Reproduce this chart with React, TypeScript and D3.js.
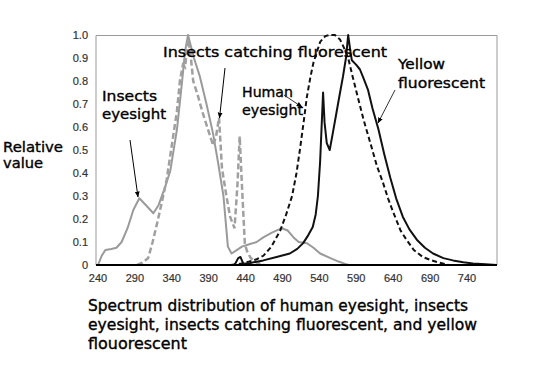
import React from "react";
import * as d3 from "d3";

const xTicks = [240, 290, 340, 390, 440, 490, 540, 590, 640, 690, 740];
const yTicks = [0, 0.1, 0.2, 0.3, 0.4, 0.5, 0.6, 0.7, 0.8, 0.9, 1.0];
const yTickLabels = ["0", "0.1", "0.2", "0.3", "0.4", "0.5", "0.6", "0.7", "0.8", "0.9", "1.0"];

// Insects eyesight (gray solid)
const insectsEyeNm = [240, 245, 250, 258, 265, 272, 280, 288, 296, 305, 315, 322, 330, 338, 347, 354, 358, 362, 366, 370, 378, 387, 396, 403, 410, 416, 421, 428, 435, 445, 455, 464, 475, 489, 497, 505, 512, 523, 532, 541, 555, 566, 575, 580];
const insectsEyeVal = [0, 0.04, 0.065, 0.07, 0.075, 0.1, 0.16, 0.24, 0.29, 0.26, 0.225, 0.26, 0.33, 0.41, 0.59, 0.8, 0.93, 1.0, 0.95, 0.9, 0.82, 0.7, 0.57, 0.44, 0.3, 0.08, 0.05, 0.065, 0.08, 0.09, 0.1, 0.12, 0.14, 0.16, 0.15, 0.12, 0.1, 0.095, 0.075, 0.05, 0.03, 0.015, 0.005, 0];

// Insects catching fluorescent (gray dashed)
const catchNm = [293, 300, 308, 314, 320, 327, 333, 340, 347, 351, 355, 358, 362, 365, 369, 375, 382, 390, 396, 400, 404, 408, 414, 419, 425, 429, 432, 435, 439, 442, 447, 455, 465];
const catchVal = [0, 0.01, 0.03, 0.1, 0.18, 0.28, 0.37, 0.52, 0.67, 0.8, 0.87, 0.86, 0.98, 0.93, 0.8, 0.74, 0.66, 0.58, 0.52, 0.56, 0.64, 0.42, 0.3, 0.21, 0.16, 0.35, 0.56, 0.35, 0.09, 0.06, 0.03, 0.01, 0];

// Human eyesight (black dashed)
const humanNm = [420, 432, 445, 455, 464, 475, 487, 495, 503, 509, 514, 519, 523, 528, 532, 541, 548, 554, 561, 568, 574, 579, 585, 592, 600, 610, 618, 626, 633, 640, 650, 658, 668, 680, 692, 703, 715];
const humanVal = [0, 0.005, 0.015, 0.025, 0.04, 0.08, 0.15, 0.22, 0.3, 0.4, 0.51, 0.63, 0.73, 0.82, 0.88, 0.97, 0.995, 1.0, 1.0, 0.98, 0.94, 0.9, 0.82, 0.73, 0.63, 0.52, 0.43, 0.36, 0.29, 0.23, 0.15, 0.11, 0.065, 0.035, 0.02, 0.01, 0];

// Yellow fluorescent (black solid)
const yellowNm = [425, 430, 433, 437, 445, 464, 482, 500, 510, 518, 525, 531, 535, 538, 541, 543, 545, 547, 550, 554, 558, 563, 568, 572, 576, 579, 582, 584, 590, 595, 600, 606, 612, 620, 628, 636, 644, 653, 662, 672, 683, 694, 708, 721, 735, 748, 765, 780];
const yellowVal = [0, 0.03, 0.035, 0.005, 0.008, 0.02, 0.035, 0.05, 0.07, 0.095, 0.13, 0.165, 0.22, 0.3, 0.45, 0.6, 0.75, 0.62, 0.53, 0.5, 0.57, 0.66, 0.75, 0.82, 0.9, 1.0, 0.93, 0.89, 0.87, 0.85, 0.81, 0.76, 0.68, 0.59, 0.48, 0.38, 0.29, 0.21, 0.155, 0.11, 0.075, 0.05, 0.03, 0.02, 0.012, 0.007, 0.003, 0];

const captionLines = [
  "Spectrum distribution of human eyesight, insects",
  "eyesight, insects catching fluorescent, and yellow",
  "flouorescent",
];

const FONT = "'DejaVu Sans', sans-serif";

function Label({ x, y, w, size = 14, children }: { x: number; y: number; w: number; size?: number; children: string }) {
  return (
    <text x={x} y={y} fontFamily={FONT} fontSize={size} textLength={w} lengthAdjust="spacingAndGlyphs"
      fill="#000" stroke="#000" strokeWidth={0.35}>
      {children}
    </text>
  );
}

export default function App() {
  const x = d3.scaleLinear().domain([240, 780]).range([98, 496.5]);
  const y = d3.scaleLinear().domain([0, 1]).range([265, 35]);
  const line = d3
    .line<[number, number]>()
    .x((d) => x(d[0]))
    .y((d) => y(d[1]));
  const zip = (a: number[], b: number[]) => a.map((v, i) => [v, b[i]] as [number, number]);

  return (
    <svg
      width={533}
      height={387}
      style={{ position: "absolute", left: 0, top: 0, background: "#fff" }}
    >
      <defs>
        <marker id="ah" viewBox="0 0 10 10" refX="9" refY="5" markerWidth="6" markerHeight="6" orient="auto">
          <path d="M0,1 L10,5 L0,9 Z" fill="#000" />
        </marker>
      </defs>
      <rect x={0} y={0} width={533} height={387} fill="#fff" />
      {/* frame */}
      <path d={`M96,265 V35.5 H497 V265`} fill="none" stroke="#999" strokeWidth={1} />
      {/* curves */}
      <path d={line(zip(insectsEyeNm, insectsEyeVal)) || ""} fill="none" stroke="#9a9a9a" strokeWidth={2} strokeLinejoin="round" />
      <path d={line(zip(catchNm, catchVal)) || ""} fill="none" stroke="#a0a0a0" strokeWidth={2.5} strokeDasharray="6,3" />
      <path d={line(zip(humanNm, humanVal)) || ""} fill="none" stroke="#111" strokeWidth={2} strokeDasharray="5,3" />
      <path d={line(zip(yellowNm, yellowVal)) || ""} fill="none" stroke="#111" strokeWidth={2} strokeLinejoin="round" />
      {/* bottom axis */}
      <line x1={96} x2={497} y1={265} y2={265} stroke="#000" strokeWidth={2} />
      {/* y tick labels */}
      {yTicks.map((t, i) => (
        <text key={t} x={88} y={y(t) + 4} textAnchor="end" fontFamily="'Liberation Sans', Arial, sans-serif" fontSize={11} fill="#333" stroke="#333" strokeWidth={0.2}>
          {yTickLabels[i]}
        </text>
      ))}
      {/* x tick labels */}
      {xTicks.map((t) => (
        <text key={t} x={x(t)} y={282} textAnchor="middle" fontFamily="'Liberation Sans', Arial, sans-serif" fontSize={11} fill="#333" stroke="#333" strokeWidth={0.2}>
          {t}
        </text>
      ))}
      {/* y label */}
      <Label x={3} y={152} w={60}>Relative</Label>
      <Label x={3} y={168} w={40}>value</Label>
      {/* annotations */}
      <Label x={102} y={101} w={55}>Insects</Label>
      <Label x={102} y={119} w={64}>eyesight</Label>
      <line x1={130} y1={140} x2={138} y2={197} stroke="#000" strokeWidth={1} markerEnd="url(#ah)" />

      <Label x={163} y={57} w={224}>Insects catching fluorescent</Label>
      <line x1={225} y1={68} x2={219.5} y2={118} stroke="#000" strokeWidth={1} markerEnd="url(#ah)" />

      <Label x={242} y={97} w={51}>Human</Label>
      <Label x={242} y={115} w={61}>eyesight</Label>
      <line x1={284} y1={95} x2={302} y2={107} stroke="#333" strokeWidth={1} markerEnd="url(#ah)" />

      <Label x={398} y={69} w={47}>Yellow</Label>
      <Label x={398} y={88} w={87}>fluorescent</Label>
      <line x1={395} y1={90} x2={378} y2={123} stroke="#333" strokeWidth={1} markerEnd="url(#ah)" />

      {/* caption */}
      {captionLines.map((l, i) => (
        <Label key={i} x={88} y={311 + i * 19} size={15} w={[380, 389, 99][i]}>
          {l}
        </Label>
      ))}
    </svg>
  );
}
